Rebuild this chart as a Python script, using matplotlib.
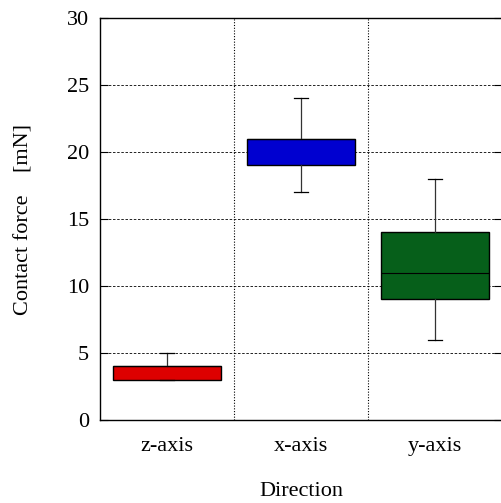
import matplotlib.pyplot as plt

plt.rcParams['font.family'] = ['Liberation Serif', 'DejaVu Serif']

# Box statistics
categories = ['z-axis', 'x-axis', 'y-axis']
whisker_low = [3, 17, 6]
q1 = [3, 19, 9]
median = [4, 21, 11]
q3 = [4, 21, 14]
whisker_high = [5, 24, 18]
colors = ['#dd0000', '#0000d0', '#065f1a']

fig = plt.figure(figsize=(5.01, 5.03), dpi=100)
ax = fig.add_axes([0.1996, 0.165, 0.8024, 0.799])

stats = []
for i, name in enumerate(categories):
    stats.append({'label': name, 'whislo': whisker_low[i], 'q1': q1[i],
                  'med': median[i], 'q3': q3[i], 'whishi': whisker_high[i]})

bp = ax.bxp(stats, positions=range(len(categories)), widths=0.8,
            patch_artist=True, showfliers=False,
            boxprops=dict(edgecolor='black', linewidth=1.0),
            medianprops=dict(color='black', linewidth=0.8),
            whiskerprops=dict(color='#333333', linewidth=0.9),
            capprops=dict(color='black', linewidth=0.9),
            capwidths=0.1, zorder=3)
for patch, c in zip(bp['boxes'], colors):
    patch.set_facecolor(c)

ax.set_xlim(-0.5, 2.5)
ax.set_ylim(0, 30)
ax.set_yticks(range(0, 31, 5))
ax.set_xticks(range(len(categories)))
ax.set_xticklabels(categories)

# grid: dashed horizontal lines at ticks, dotted vertical separators
for y in range(5, 30, 5):
    ax.axhline(y, color='black', linestyle=(0, (3, 2)), linewidth=0.6, zorder=1)
for x in [0.5, 1.5]:
    ax.axvline(x, color='black', linestyle=(0, (1, 1.5)), linewidth=0.8, zorder=1)

fs = 16
ax.tick_params(axis='y', direction='in', length=6, right=True, labelsize=fs, pad=8)
ax.tick_params(axis='x', length=0, labelsize=fs, pad=12)
for s in ax.spines.values():
    s.set_linewidth(1.0)

ax.set_ylabel('Contact force    [mN]', fontsize=fs, labelpad=24)
ax.set_xlabel('Direction', fontsize=fs, labelpad=19)

fig.savefig('out.png', dpi=100)
